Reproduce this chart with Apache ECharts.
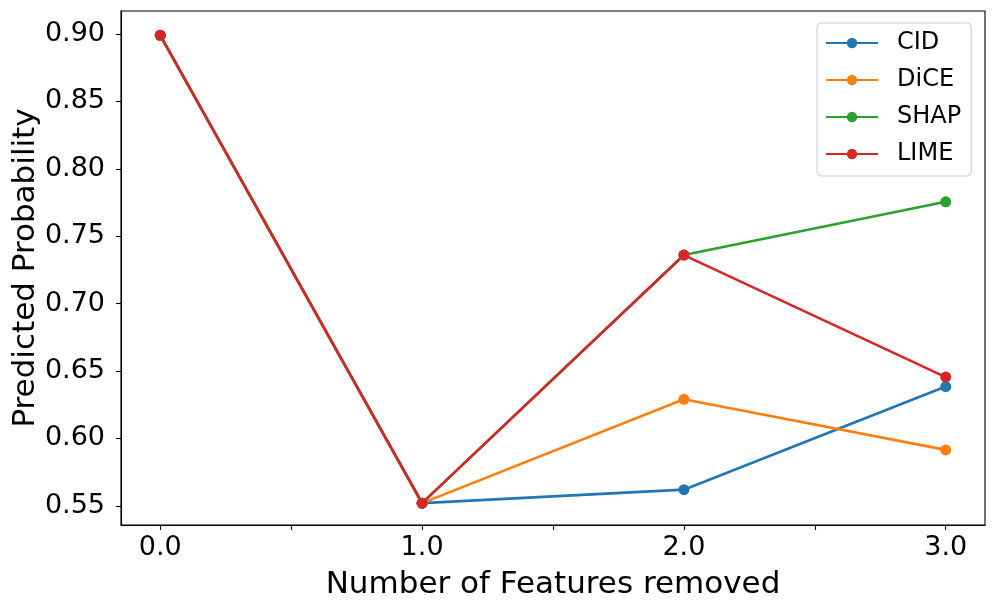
<!DOCTYPE html>
<html>
<head>
<meta charset="utf-8">
<script src="https://cdn.jsdelivr.net/npm/echarts@6/dist/echarts.min.js"></script>
<style>
html,body{margin:0;padding:0;background:#fff;}
#chart{width:996px;height:612px;}
</style>
</head>
<body>
<div id="chart"></div>
<script>
const xValues = [0, 1, 2, 3];
const cidValues = [0.899, 0.552, 0.562, 0.6385];
const diceValues = [0.899, 0.552, 0.629, 0.5915];
const shapValues = [0.899, 0.552, 0.736, 0.7755];
const limeValues = [0.899, 0.552, 0.736, 0.6455];
const seriesNames = ['CID', 'DiCE', 'SHAP', 'LIME'];
const seriesColors = ['#1f77b4', '#ff7f0e', '#2ca02c', '#d62728'];
const xTickValues = [0, 0.5, 1, 1.5, 2, 2.5, 3];
const xLabelValues = [0, 1, 2, 3];
const yTickValues = [0.55, 0.60, 0.65, 0.70, 0.75, 0.80, 0.85, 0.90];
const xTitle = 'Number of Features removed';
const yTitle = 'Predicted Probability';

const allValues = [cidValues, diceValues, shapValues, limeValues];
const FONT = 'DejaVu Sans';

const chart = echarts.init(document.getElementById('chart'), null, {renderer: 'canvas'});
chart.setOption({
  animation: false,
  backgroundColor: '#ffffff',
  textStyle: {fontFamily: FONT},
  grid: {
    left: 121, right: 11, top: 11, bottom: 87,
    containLabel: false,
    outerBoundsMode: 'none',
    show: true, borderColor: '#000', borderWidth: 1.1, backgroundColor: 'transparent'
  },
  legend: {
    orient: 'vertical',
    left: 817, top: 23,
    padding: [8, 10, 10, 8],
    itemWidth: 52, itemHeight: 13, itemGap: 13,
    backgroundColor: 'rgba(255,255,255,0.8)',
    borderColor: '#cccccc', borderWidth: 1, borderRadius: 4,
    textStyle: {fontFamily: FONT, fontSize: 24, color: '#000', padding: [0, 0, 0, 14]},
    data: seriesNames
  },
  xAxis: {
    type: 'value',
    min: -0.15, max: 3.15,
    name: xTitle, nameLocation: 'middle', nameGap: 44, nameMoveOverlap: false,
    nameTextStyle: {fontFamily: FONT, fontSize: 31, color: '#000'},
    axisLine: {show: true, onZero: false, lineStyle: {color: '#000', width: 1.1}},
    axisTick: {show: true, inside: false, length: 5, customValues: xTickValues, lineStyle: {color: '#000', width: 1.1}},
    axisLabel: {show: true, margin: 9, customValues: xLabelValues, fontFamily: FONT, fontSize: 27, color: '#000',
      formatter: v => Number(v).toFixed(1)},
    splitLine: {show: false}
  },
  yAxis: {
    type: 'value',
    min: 0.5358, max: 0.9170,
    name: yTitle, nameLocation: 'middle', nameGap: 80, nameRotate: 90, nameMoveOverlap: false,
    nameTextStyle: {fontFamily: FONT, fontSize: 31, color: '#000'},
    axisLine: {show: true, onZero: false, lineStyle: {color: '#000', width: 1.1}},
    axisTick: {show: true, inside: false, length: 5, customValues: yTickValues, lineStyle: {color: '#000', width: 1.1}},
    axisLabel: {show: true, margin: 16, customValues: yTickValues, fontFamily: FONT, fontSize: 27, color: '#000',
      formatter: v => Number(v).toFixed(2)},
    splitLine: {show: false}
  },
  series: seriesNames.map((name, i) => ({
    name: name,
    type: 'line',
    data: xValues.map((x, j) => [x, allValues[i][j]]),
    symbol: 'circle',
    symbolSize: 11,
    showSymbol: true,
    color: seriesColors[i],
    lineStyle: {color: seriesColors[i], width: 2.6},
    itemStyle: {color: seriesColors[i]},
    emphasis: {disabled: true}
  }))
});
</script>
</body>
</html>
